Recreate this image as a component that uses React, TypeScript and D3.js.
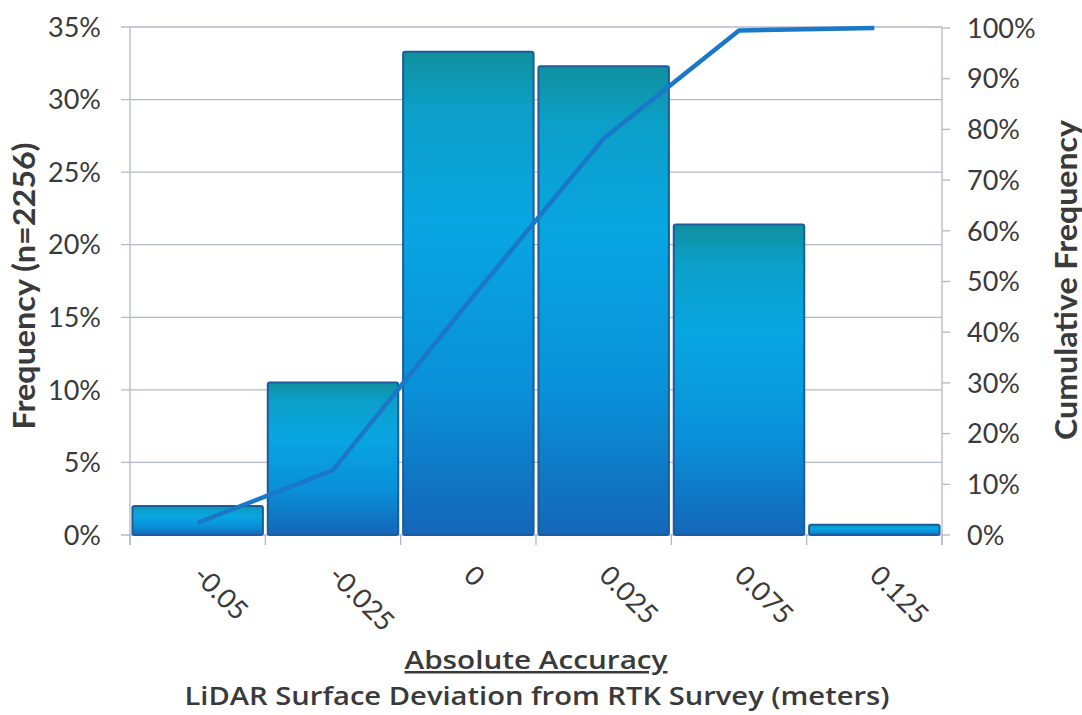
import React from "react";
import * as d3 from "d3";

// Histogram bins (meters) with frequency and cumulative frequency (%)
const categories = ["-0.05", "-0.025", "0", "0.025", "0.075", "0.125"];
const frequency = [2.0, 10.5, 33.3, 32.3, 21.4, 0.7];
const cumulative = [2.4, 12.8, 45.9, 78.2, 99.5, 100];
const leftTicks = [0, 5, 10, 15, 20, 25, 30, 35];
const rightTicks = [0, 10, 20, 30, 40, 50, 60, 70, 80, 90, 100];

const W = 1082;
const H = 715;
const margin = { left: 130, right: 140, top: 27, bottom: 180 };
const font = "Lato, 'Open Sans', sans-serif";
const titleFont = "'Open Sans', 'DejaVu Sans', sans-serif";

export default function App() {
  const x0 = margin.left;
  const x1 = W - margin.right;
  const y0 = H - margin.bottom;
  const y1 = margin.top;

  const x = d3.scaleBand<string>().domain(categories).range([x0, x1]).paddingInner(0.036).paddingOuter(0.018);
  const yL = d3.scaleLinear().domain([0, 35]).range([y0, y1]);
  const yR = d3.scaleLinear().domain([0, 100]).range([y0, y1 + 1]);
  const step = (x1 - x0) / categories.length;

  const line = d3
    .line<number>()
    .x((_, i) => (x(categories[i]) as number) + x.bandwidth() / 2)
    .y((d) => yR(d));

  const axisColor = "#b4b9c8";
  const textColor = "#3a3a3a";

  return (
    <svg width={W} height={H} style={{ position: "absolute", left: 0, top: 0, background: "#fff" }}>
      <defs>
        <linearGradient id="barGrad" x1="0" y1="0" x2="0" y2="1">
          <stop offset="0" stopColor="#10909e" />
          <stop offset="0.12" stopColor="#0c9fc8" />
          <stop offset="0.35" stopColor="#08a6e2" />
          <stop offset="0.7" stopColor="#0a90d8" />
          <stop offset="1" stopColor="#1466b8" />
        </linearGradient>
      </defs>

      {/* horizontal gridlines */}
      {leftTicks.map((t) => (
        <line key={"g" + t} x1={x0 - 9} x2={x1} y1={yL(t)} y2={yL(t)} stroke={axisColor} strokeWidth={1.3} />
      ))}

      {/* axes */}
      <line x1={x0} x2={x0} y1={y1} y2={y0 + 10} stroke={axisColor} strokeWidth={1.3} />
      <line x1={x1} x2={x1} y1={y1} y2={y0 + 10} stroke={axisColor} strokeWidth={1.3} />
      {rightTicks.map((t) => (
        <line key={"rt" + t} x1={x1} x2={x1 + 8} y1={yR(t)} y2={yR(t)} stroke={axisColor} strokeWidth={1.3} />
      ))}
      {d3.range(categories.length + 1).map((i) => (
        <line key={"xt" + i} x1={x0 + i * step} x2={x0 + i * step} y1={y0} y2={y0 + 10} stroke={axisColor} strokeWidth={1.3} />
      ))}

      {/* bars */}
      {frequency.map((v, i) => (
        <rect
          key={"b" + i}
          x={x(categories[i])}
          y={yL(v)}
          width={x.bandwidth()}
          height={y0 - yL(v)}
          rx={2}
          fill="url(#barGrad)"
          stroke="#1b5c9c"
          strokeWidth={2}
        />
      ))}

      {/* cumulative line */}
      <path d={line(cumulative) || ""} fill="none" stroke="#1a78c8" strokeWidth={4.5} strokeLinejoin="round" />

      {/* left tick labels */}
      {leftTicks.map((t) => (
        <text key={"lt" + t} x={x0 - 29} y={yL(t)} dy="0.36em" textAnchor="end" fontFamily={font} fontSize={27} fill={textColor}>
          {t}%
        </text>
      ))}
      {/* right tick labels */}
      {rightTicks.map((t) => (
        <text key={"rl" + t} x={x1 + 25} y={yR(t)} dy="0.36em" textAnchor="start" fontFamily={font} fontSize={27} fill={textColor}>
          {t}%
        </text>
      ))}
      {/* category labels */}
      {categories.map((c) => {
        const cx = (x(c) as number) + x.bandwidth() / 2;
        return (
          <text
            key={"c" + c}
            transform={`translate(${cx - 6},${y0 + 42}) rotate(45)`}
            textAnchor="start"
            fontFamily={font}
            fontSize={27}
            fill={textColor}
          >
            {c}
          </text>
        );
      })}

      {/* axis titles */}
      <text
        transform={`translate(35,286) rotate(-90)`}
        textAnchor="middle"
        fontFamily={font}
        fontWeight={700}
        fontSize={30}
        textLength={287}
        lengthAdjust="spacingAndGlyphs"
        fill={textColor}
      >
        Frequency (n=2256)
      </text>
      <text
        transform={`translate(1077,280) rotate(-90)`}
        textAnchor="middle"
        fontFamily={font}
        fontWeight={700}
        fontSize={30}
        textLength={320}
        lengthAdjust="spacingAndGlyphs"
        fill={textColor}
      >
        Cumulative Frequency
      </text>

      <text
        x={536}
        y={669}
        textAnchor="middle"
        fontFamily={titleFont}
        fontWeight={600}
        fontSize={25}
        textLength={263}
        lengthAdjust="spacingAndGlyphs"
        fill={textColor}
        textDecoration="underline"
      >
        Absolute Accuracy
      </text>
      <text
        x={537}
        y={705}
        textAnchor="middle"
        fontFamily={titleFont}
        fontWeight={600}
        fontSize={25}
        textLength={705}
        lengthAdjust="spacingAndGlyphs"
        fill={textColor}
      >
        LiDAR Surface Deviation from RTK Survey (meters)
      </text>
    </svg>
  );
}
